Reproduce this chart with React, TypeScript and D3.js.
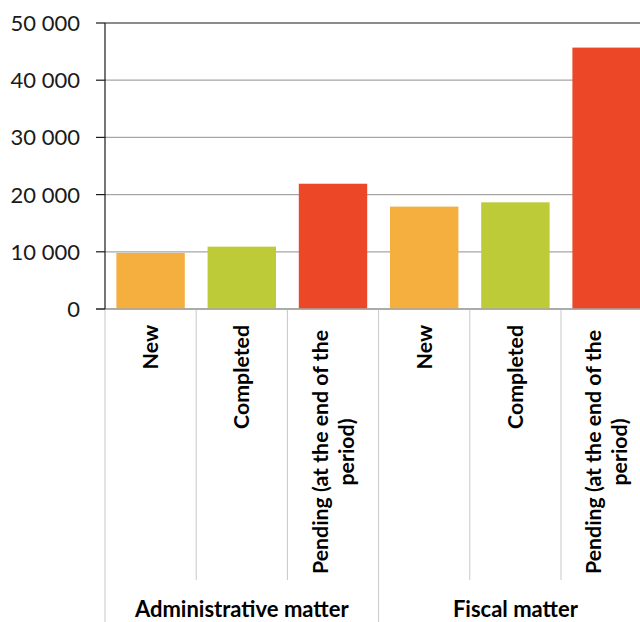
import React from "react";
import * as d3 from "d3";

const groups = ["Administrative matter", "Fiscal matter"];
const categories = ["New", "Completed", "Pending (at the end of the period)"];
const adminValues = [9800, 10900, 21900];
const fiscalValues = [17900, 18650, 45700];
const categoryColors = ["#F5AF3F", "#BDCB38", "#EC4828"];
const yTicks = [0, 10000, 20000, 30000, 40000, 50000];

const W = 640;
const H = 622;
const left = 105;
const right = 652.2;
const top = 23;
const bottom = 309;
const FONT = "Lato, 'Open Sans', sans-serif";

function wrap(label: string, maxChars: number): string[] {
  const words = label.split(" ");
  const lines: string[] = [];
  let cur = "";
  for (const w of words) {
    const cand = cur ? cur + " " + w : w;
    if (cand.length <= maxChars) cur = cand;
    else {
      lines.push(cur);
      cur = w;
    }
  }
  if (cur) lines.push(cur);
  return lines;
}

export default function App() {
  const series = [adminValues, fiscalValues];
  const rows = groups.flatMap((g, gi) =>
    categories.map((c, ci) => ({
      key: `${gi}-${ci}`,
      group: g,
      gi,
      ci,
      cat: c,
      value: series[gi][ci],
    }))
  );
  const x = d3
    .scaleBand<string>()
    .domain(rows.map((r) => r.key))
    .range([left, right])
    .paddingInner(0.25)
    .paddingOuter(0.125);
  const y = d3.scaleLinear().domain([0, 50000]).range([bottom, top]);
  const fmt = (v: number) => d3.format(",")(v).replace(/,/g, " ");
  const step = x.step();
  const groupWidth = step * categories.length;

  return (
    <svg
      width={W}
      height={H}
      style={{ position: "absolute", left: 0, top: 0, background: "#fff" }}
      fontFamily={FONT}
    >
      {/* gridlines */}
      {yTicks.map((t) => (
        <line
          key={"g" + t}
          x1={left}
          x2={W}
          y1={y(t)}
          y2={y(t)}
          stroke={t === 50000 ? "#1a1a1a" : "#A6A6A6"}
          strokeWidth={t === 50000 ? 1.2 : 1.3}
        />
      ))}
      {/* bars */}
      {rows.map((r) => (
        <rect
          key={r.key}
          x={x(r.key)}
          y={y(r.value)}
          width={x.bandwidth()}
          height={y(0) - y(r.value)}
          fill={categoryColors[r.ci]}
        />
      ))}
      {/* category separators */}
      {rows.map((r, i) => {
        const xs = left + i * step;
        const isGroupEdge = i % categories.length === 0;
        return (
          <line
            key={"s" + r.key}
            x1={xs}
            x2={xs}
            y1={bottom}
            y2={isGroupEdge ? H : 580}
            stroke="#C8C8C8"
            strokeWidth={1}
          />
        );
      })}
      <line x1={right} x2={right} y1={bottom} y2={H} stroke="#C8C8C8" />
      {/* x axis line */}
      <line x1={96} x2={W} y1={bottom} y2={bottom} stroke="#A6A6A6" strokeWidth={1.3} />
      {/* y axis */}
      <line x1={left} x2={left} y1={top} y2={bottom} stroke="#1a1a1a" strokeWidth={1.2} />
      {yTicks.map((t) => (
        <g key={"t" + t}>
          <line x1={96} x2={left} y1={y(t)} y2={y(t)} stroke="#1a1a1a" strokeWidth={1.2} />
          <text
            x={80}
            y={y(t)}
            dy="0.36em"
            textAnchor="end"
            fontSize={22}
            fill="#1a1a1a"
          >
            {fmt(t)}
          </text>
        </g>
      ))}
      {/* category labels */}
      {rows.map((r) => {
        const cx = (x(r.key) as number) + x.bandwidth() / 2;
        const lines = wrap(r.cat, 26);
        const lh = 26;
        const offset = -((lines.length - 1) * lh) / 2;
        return (
          <g key={"l" + r.key} transform={`translate(${cx},325) rotate(-90)`}>
            {lines.map((ln, li) => (
              <text
                key={li}
                x={lines.length > 1 ? -127 : 0}
                y={offset + li * lh}
                dy="0.36em"
                textAnchor={lines.length > 1 ? "middle" : "end"}
                fontSize={21.3}
                fontWeight="bold"
                fill="#000"
              >
                {ln}
              </text>
            ))}
          </g>
        );
      })}
      {/* group labels */}
      {groups.map((g, gi) => (
        <text
          key={"gl" + g}
          x={left + gi * groupWidth + groupWidth / 2}
          y={617}
          textAnchor="middle"
          fontSize={22}
          fontWeight="bold"
          fill="#000"
        >
          {g}
        </text>
      ))}
    </svg>
  );
}
